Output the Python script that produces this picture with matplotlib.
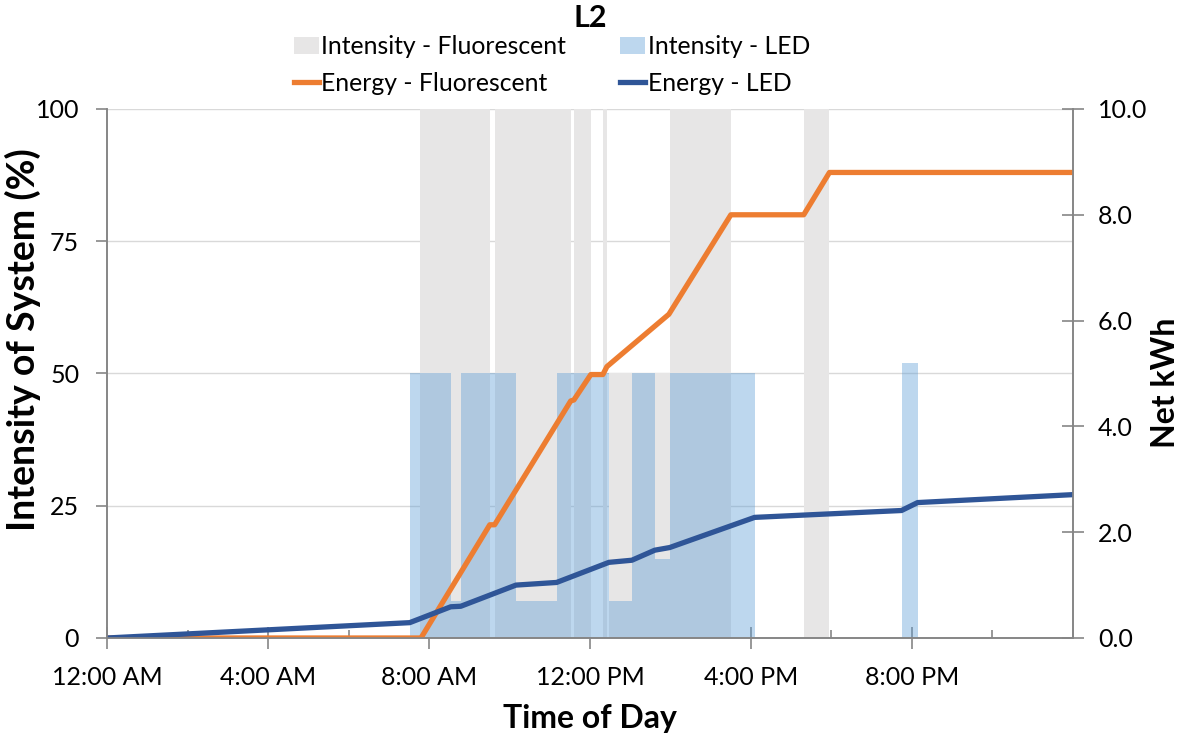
import matplotlib
matplotlib.use("Agg")
import matplotlib.pyplot as plt
from matplotlib.patches import Patch
from matplotlib.lines import Line2D
from matplotlib.ticker import MultipleLocator, FormatStrFormatter

plt.rcParams["font.family"] = ["Lato", "DejaVu Sans"]

# Intensity blocks (hour start, hour end, % of system)
fluor_start = [7.77, 9.63, 11.60, 12.32, 12.47, 13.98, 17.31]
fluor_end = [9.51, 11.52, 12.02, 12.42, 13.98, 15.50, 17.95]
fluor_level = [100, 100, 100, 100, 50, 100, 100]

led_start = [7.52, 8.54, 8.79, 10.16, 11.17, 12.47, 13.04, 13.61, 13.98, 19.74]
led_end = [8.54, 8.79, 10.16, 11.17, 12.47, 13.04, 13.61, 13.98, 16.09, 20.14]
led_level = [50, 7, 50, 7, 50, 7, 50, 15, 50, 52]

# Cumulative energy (hour, kWh)
fluor_hours = [0, 7.80, 9.51, 9.63, 11.52, 11.60, 12.02, 12.32, 12.42, 13.96, 15.50, 17.31, 17.95, 24]
fluor_kwh = [0, 0, 2.14, 2.14, 4.48, 4.50, 4.98, 4.98, 5.13, 6.12, 8.00, 8.00, 8.80, 8.80]

led_hours = [0, 7.52, 8.54, 8.79, 10.16, 11.17, 12.47, 13.04, 13.61, 13.98, 16.09, 19.74, 20.14, 24]
led_kwh = [0, 0.29, 0.59, 0.60, 1.00, 1.05, 1.43, 1.47, 1.66, 1.71, 2.28, 2.41, 2.56, 2.71]

tick_hours = [0, 4, 8, 12, 16, 20]
tick_labels = ["12:00 AM", "4:00 AM", "8:00 AM", "12:00 PM", "4:00 PM", "8:00 PM"]

GRAY = "#E7E6E6"
LED_FILL = "#5B9BD5"
ORANGE = "#ED7D31"
DARKBLUE = "#2F5597"
AXIS = "#868686"

fig = plt.figure(figsize=(11.8, 7.49), dpi=100)
ax = fig.add_axes([0.0907, 0.1482, 0.8186, 0.7063])
ax2 = ax.twinx()

# 1) barras de intensidad
ax.bar(fluor_start, fluor_level, width=[e - s for s, e in zip(fluor_start, fluor_end)],
       align="edge", color=GRAY, linewidth=0, zorder=1)
ax.bar(led_start, led_level, width=[e - s for s, e in zip(led_start, led_end)],
       align="edge", color=LED_FILL, alpha=0.4, linewidth=0, zorder=2)

# 2) lineas de energia
ax2.plot(fluor_hours, fluor_kwh, color=ORANGE, lw=3.8)
ax2.plot(led_hours, led_kwh, color=DARKBLUE, lw=3.8)

ax.set_xlim(0, 24)
ax.set_ylim(0, 100)
ax2.set_ylim(0, 10)

ax.yaxis.set_major_locator(MultipleLocator(25))
ax.yaxis.grid(True, color="#D9D9D9", lw=1)
ax.set_axisbelow(True)
ax2.yaxis.set_major_locator(MultipleLocator(2))
ax2.yaxis.set_major_formatter(FormatStrFormatter("%.1f"))

ax.set_xticks(tick_hours)
ax.set_xticklabels(tick_labels)
ax.xaxis.set_minor_locator(MultipleLocator(2))

for a in (ax, ax2):
    a.spines["top"].set_visible(False)
    for s in ("left", "right", "bottom"):
        a.spines[s].set_color(AXIS)
        a.spines[s].set_linewidth(1.2)

ax.tick_params(axis="x", which="major", direction="inout", length=16, width=1.2,
               color=AXIS, labelsize=18, pad=12)
ax.tick_params(axis="x", which="minor", direction="in", length=6, width=1.2, color=AXIS)
ax.tick_params(axis="y", direction="out", length=8, width=1.2, color=AXIS,
               labelsize=18, pad=12)
ax2.tick_params(axis="y", direction="inout", length=16, width=1.2, color=AXIS,
                labelsize=18, pad=10)

ax.set_xlabel("Time of Day", fontsize=23, fontweight="bold", labelpad=11)
ax.set_ylabel("Intensity of System (%)", fontsize=27, fontweight="bold")
ax.yaxis.set_label_coords(-0.068, 0.564)
ax2.set_ylabel("Net kWh", fontsize=23, fontweight="bold")
ax2.yaxis.set_label_coords(1.081, 0.482)

fig.text(0.5, 0.995, "L2", ha="center", va="top", fontsize=22, fontweight="bold")

handles = [
    Patch(facecolor=GRAY, edgecolor="none"),
    Line2D([], [], color=ORANGE, lw=3.8),
    Patch(facecolor=LED_FILL, alpha=0.4, edgecolor="none"),
    Line2D([], [], color=DARKBLUE, lw=3.8),
]
labels = ["Intensity - Fluorescent", "Energy - Fluorescent", "Intensity - LED", "Energy - LED"]
fig.legend(handles, labels, ncol=2, loc="upper left", bbox_to_anchor=(0.2407, 0.966),
           frameon=False, fontsize=17.8, handlelength=1.0, handletextpad=0.1,
           columnspacing=2.2, labelspacing=0.55, borderaxespad=0)

fig.savefig("out.png", dpi=100)
plt.close(fig)
